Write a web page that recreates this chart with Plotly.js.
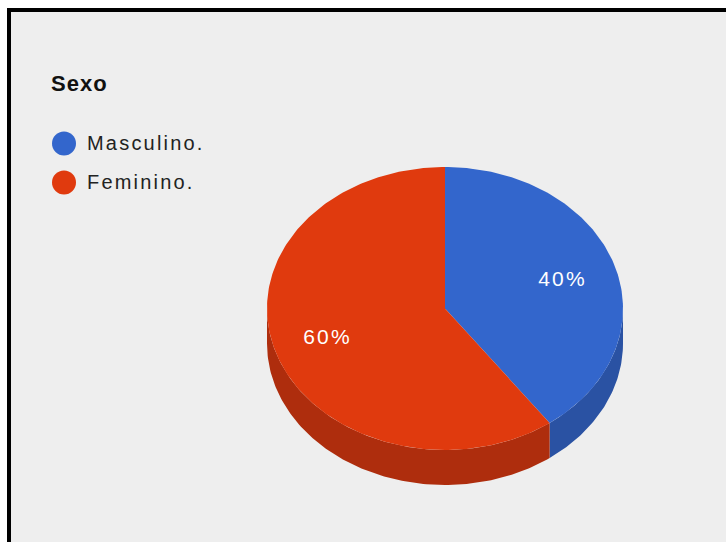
<!DOCTYPE html>
<html>
<head>
<meta charset="utf-8">
<script src="https://cdn.plot.ly/plotly-3.0.1.min.js"></script>
<style>
  html, body { margin: 0; padding: 0; background: #fff; }
  #chart { width: 726px; height: 542px; }
  .textpoint text { letter-spacing: 2.2px; }
  .gtitle { letter-spacing: 1px; }
</style>
</head>
<body>
<div id="chart"></div>
<script>
// Survey answers for "Sexo"
const chartTitle = 'Sexo';
const categories = ['Masculino.', 'Feminino.'];
const shares = [40, 60];
const topColors = ['#3366cc', '#e03a0e'];
const sideColors = ['#2a52a3', '#ae2d0d'];
const labelInk = '#ffffff';
const legendInk = '#222222';
const panelColor = '#eeeeee';

// Tilted pie drawn in pixel-scaled axes: ellipse centre, radii, rim depth
const pie = { cx: 445, cy: 308.5, rx: 178, ry: 141.5, depth: 35 };
const labelRadiusX = 0.694, labelRadiusY = 0.662;

function rim(turn) {
  const a = turn * 2 * Math.PI;
  return [pie.cx + pie.rx * Math.sin(a), pie.cy - pie.ry * Math.cos(a)];
}

function arcTurns(start, end) {
  const n = Math.max(2, Math.ceil((end - start) * 360));
  return Array.from({ length: n + 1 }, (_, i) => start + (end - start) * i / n);
}

const total = shares.reduce((s, v) => s + v, 0);
const traces = [];
const labelX = [], labelY = [], labelText = [];

let turn = 0;
const spans = shares.map(v => {
  const span = [turn, turn + v / total, v];
  turn = span[1];
  return span;
});

// Rim first, so the top faces overlap it: only the front half (turn 0.25 to 0.75) shows
spans.forEach(([start, end], i) => {
  const from = Math.max(start, 0.25), to = Math.min(end, 0.75);
  if (to <= from) return;
  const arc = arcTurns(from, to).map(rim);
  const path = arc.concat(arc.slice().reverse().map(([x, y]) => [x, y + pie.depth]));
  traces.push({
    type: 'scatter', mode: 'lines', fill: 'toself',
    x: path.map(p => p[0]).concat(path[0][0]),
    y: path.map(p => p[1]).concat(path[0][1]),
    fillcolor: sideColors[i], line: { width: 0, color: sideColors[i] },
    hoverinfo: 'skip', showlegend: false
  });
});

// Top faces and the percentage labels
spans.forEach(([start, end, value], i) => {
  const arc = arcTurns(start, end).map(rim);
  const path = [[pie.cx, pie.cy]].concat(arc, [[pie.cx, pie.cy]]);
  traces.push({
    type: 'scatter', mode: 'lines', fill: 'toself', name: categories[i],
    x: path.map(p => p[0]), y: path.map(p => p[1]),
    fillcolor: topColors[i], line: { width: 0, color: topColors[i] },
    hoverinfo: 'name', showlegend: false
  });
  const mid = (start + end) / 2 * 2 * Math.PI;
  labelX.push(pie.cx + labelRadiusX * pie.rx * Math.sin(mid));
  labelY.push(pie.cy - labelRadiusY * pie.ry * Math.cos(mid) + 1);
  labelText.push(value + '%');
});

traces.push({
  type: 'scatter', mode: 'text', x: labelX, y: labelY, text: labelText,
  textposition: 'middle center',
  textfont: { family: 'Liberation Sans, Arial, sans-serif', size: 21, color: labelInk },
  hoverinfo: 'skip', showlegend: false
});

// Key beside the pie: round swatches with their category names
const keyLeft = 64, keyTop = 143.5, keyStep = 39, keyTextGap = 23, keyTextDrop = 1;
traces.push({
  type: 'scatter', mode: 'markers',
  x: categories.map(() => keyLeft),
  y: categories.map((_, i) => keyTop + i * keyStep),
  marker: { size: 24, color: topColors, line: { width: 0 } },
  hoverinfo: 'skip', showlegend: false
});
traces.push({
  type: 'scatter', mode: 'text',
  x: categories.map(() => keyLeft + keyTextGap),
  y: categories.map((_, i) => keyTop + keyTextDrop + i * keyStep),
  text: categories, textposition: 'middle right',
  textfont: { family: 'Liberation Sans, Arial, sans-serif', size: 20, color: legendInk },
  hoverinfo: 'skip', showlegend: false
});

const layout = {
  width: 726, height: 542,
  margin: { l: 0, r: 0, t: 0, b: 0 },
  paper_bgcolor: '#ffffff', plot_bgcolor: 'rgba(0,0,0,0)',
  showlegend: false,
  title: {
    text: '<b>' + chartTitle + '</b>',
    x: 51 / 726, xanchor: 'left', xref: 'paper',
    y: 1 - 83 / 542, yanchor: 'middle', yref: 'container',
    font: { family: 'Liberation Sans, Arial, sans-serif', size: 22, color: '#111111' }
  },
  xaxis: { range: [0, 726], visible: false, fixedrange: true },
  yaxis: { range: [542, 0], visible: false, fixedrange: true },
  shapes: [{
    type: 'rect', layer: 'below', xref: 'x', yref: 'y',
    x0: 9, y0: 10, x1: 760, y1: 580,
    fillcolor: panelColor, line: { color: '#000000', width: 4 }
  }]
};

Plotly.newPlot('chart', traces, layout, { displayModeBar: false, staticPlot: true });
</script>
</body>
</html>
